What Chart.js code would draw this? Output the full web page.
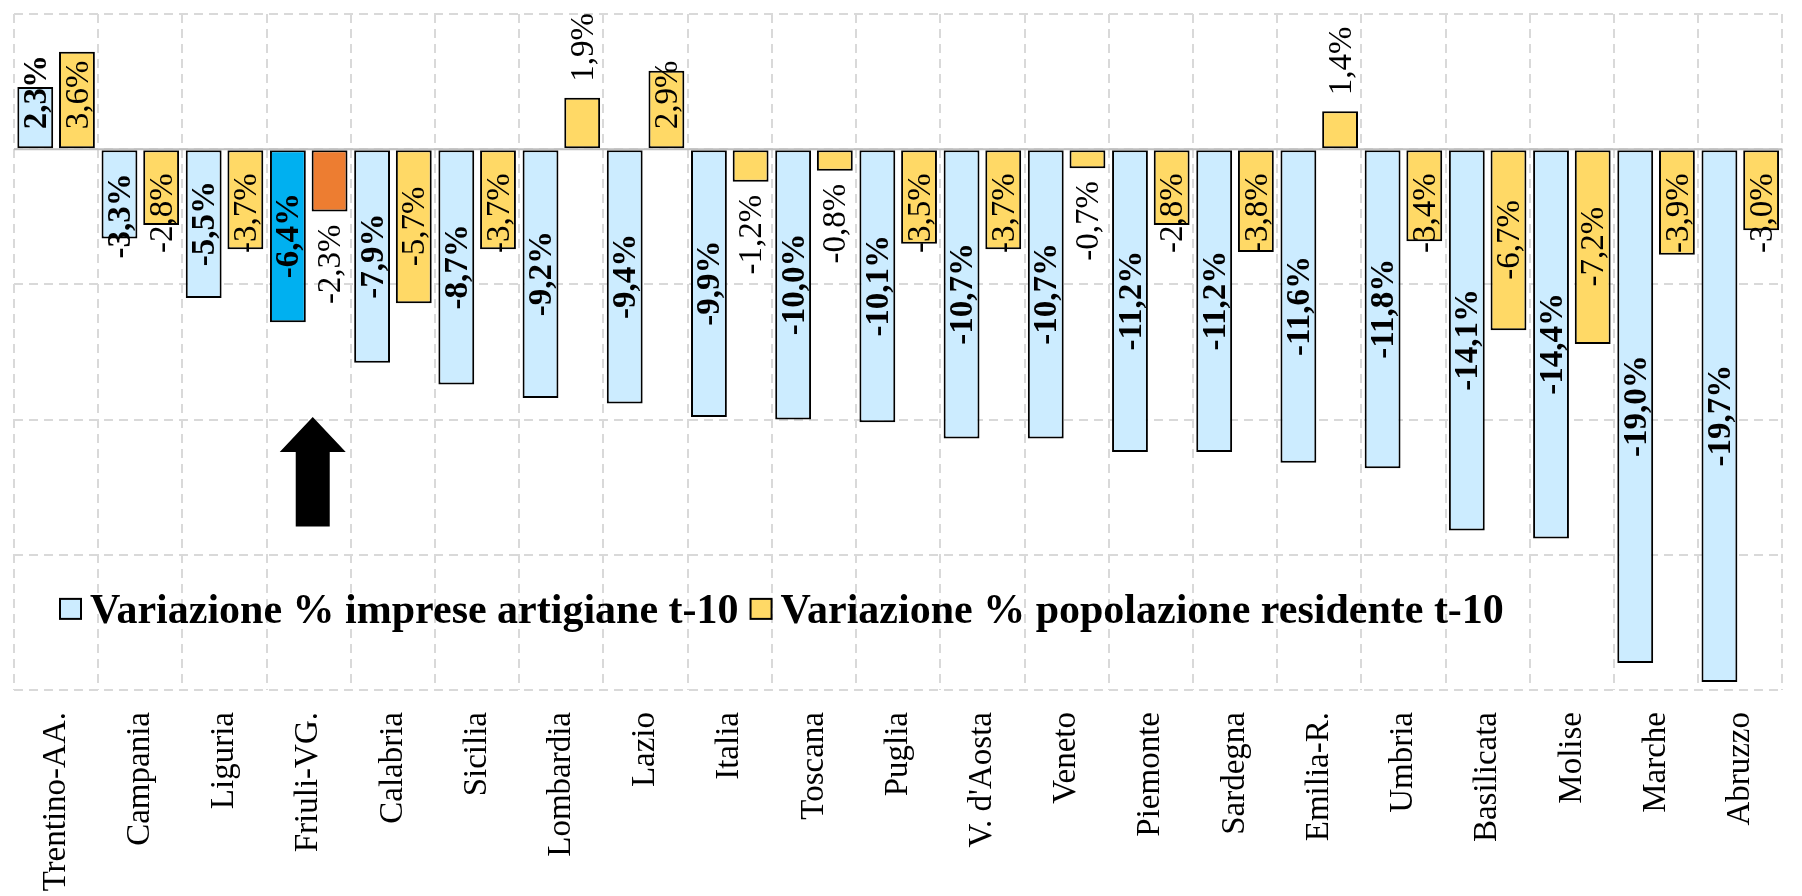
<!DOCTYPE html>
<html><head><meta charset="utf-8">
<script src="https://cdn.jsdelivr.net/npm/chart.js@4.4.1/dist/chart.umd.min.js"></script>
<style>html,body{margin:0;padding:0;background:#fff;overflow:hidden}canvas{display:block}</style>
</head><body>
<canvas id="c" width="1802" height="896"></canvas>
<script>
// ---- data ----
const categories = ['Trentino-AA.','Campania','Liguria','Friuli-VG.','Calabria','Sicilia','Lombardia','Lazio','Italia','Toscana','Puglia',"V. d'Aosta",'Veneto','Piemonte','Sardegna','Emilia-R.','Umbria','Basilicata','Molise','Marche','Abruzzo'];
const impreseArtigiane = [2.3,-3.3,-5.5,-6.4,-7.9,-8.7,-9.2,-9.4,-9.9,-10.0,-10.1,-10.7,-10.7,-11.2,-11.2,-11.6,-11.8,-14.1,-14.4,-19.0,-19.7];
const popolazioneResidente = [3.6,-2.8,-3.7,-2.3,-5.7,-3.7,1.9,2.9,-1.2,-0.8,-3.5,-3.7,-0.7,-2.8,-3.8,1.4,-3.4,-6.7,-7.2,-3.9,-3.0];
const seriesNames = ['Variazione % imprese artigiane t-10','Variazione % popolazione residente t-10'];
const yTicks = [5,0,-5,-10,-15,-20];
const highlighted = 'Friuli-VG.';

// ---- styles ----
const SERIF = '"Liberation Serif", "Times New Roman", serif';
const colBlue = '#CCECFF', colBlueHi = '#00B0F0';
const colYellow = '#FFD966', colYellowHi = '#ED7D31';
const gridCol = '#d9d9d9';
const fmt = v => v.toFixed(1).replace('.', ',') + '%';
const labelStyles = [
  { font: 'bold 33px ' + SERIF, outsideBelow: 0 },
  { font: '33px ' + SERIF, outsideBelow: 2.5 }
];

const overlayPlugin = {
  id: 'overlay',
  afterDatasetsDraw(chart) {
    const ctx = chart.ctx, ca = chart.chartArea;
    const ys = chart.scales.y, xs = chart.scales.x;
    const y0 = ys.getPixelForValue(0);
    ctx.save();
    // axis line at zero
    ctx.strokeStyle = '#bfbfbf'; ctx.lineWidth = 2;
    ctx.beginPath(); ctx.moveTo(ca.left, y0); ctx.lineTo(ca.right, y0); ctx.stroke();
    // data labels
    chart.data.datasets.forEach((ds, di) => {
      const meta = chart.getDatasetMeta(di);
      const st = labelStyles[di];
      ctx.font = st.font;
      meta.data.forEach((bar, i) => {
        const v = ds.data[i];
        const txt = fmt(v);
        const len = ctx.measureText(txt).width;
        const yv = bar.y;
        let cy;
        if (Math.abs(v) < st.outsideBelow) {
          cy = v < 0 ? yv + 13 + len / 2 : yv - 16 - len / 2;
        } else {
          cy = (y0 + yv) / 2;
          if (v < 0) cy = Math.max(cy, y0 + 24 + len / 2);
          else cy = Math.min(cy, y0 - 20 - len / 2);
        }
        ctx.save();
        ctx.translate(bar.x + 2, cy);
        ctx.rotate(-Math.PI / 2);
        ctx.textAlign = 'center'; ctx.textBaseline = 'middle';
        ctx.fillStyle = '#000';
        ctx.fillText(txt, 0, 0);
        ctx.restore();
      });
    });
    // arrow under highlighted category
    const ax = xs.getPixelForValue(categories.indexOf(highlighted)) + 4;
    const tip = ys.getPixelForValue(-9.9), hb = ys.getPixelForValue(-11.2), tail = ys.getPixelForValue(-13.95);
    ctx.fillStyle = '#000';
    ctx.beginPath();
    ctx.moveTo(ax, tip); ctx.lineTo(ax + 33, hb); ctx.lineTo(ax + 17, hb); ctx.lineTo(ax + 17, tail);
    ctx.lineTo(ax - 17, tail); ctx.lineTo(ax - 17, hb); ctx.lineTo(ax - 33, hb); ctx.closePath(); ctx.fill();
    // legend
    const ly = ys.getPixelForValue(-17.0);
    let lx = ca.left + 46;
    ctx.font = 'bold 42px ' + SERIF;
    ctx.textAlign = 'left'; ctx.textBaseline = 'alphabetic';
    [colBlue, colYellow].forEach((c, k) => {
      ctx.fillStyle = c; ctx.strokeStyle = '#000'; ctx.lineWidth = 2;
      ctx.fillRect(lx, ly - 10, 21, 20); ctx.strokeRect(lx, ly - 10, 21, 20);
      ctx.fillStyle = '#000';
      ctx.fillText(seriesNames[k], lx + 30, ly + 14);
      lx += 30 + ctx.measureText(seriesNames[k]).width + 12;
    });
    ctx.restore();
  }
};

new Chart(document.getElementById('c'), {
  type: 'bar',
  data: {
    labels: categories,
    datasets: [
      { label: seriesNames[0], data: impreseArtigiane,
        backgroundColor: categories.map(c => c === highlighted ? colBlueHi : colBlue),
        borderColor: '#000', borderWidth: 2, borderSkipped: false,
        categoryPercentage: 0.99, barPercentage: 0.86 },
      { label: seriesNames[1], data: popolazioneResidente,
        backgroundColor: categories.map(c => c === highlighted ? colYellowHi : colYellow),
        borderColor: '#000', borderWidth: 2, borderSkipped: false,
        categoryPercentage: 0.99, barPercentage: 0.86 }
    ]
  },
  options: {
    responsive: false, animation: false, devicePixelRatio: 1,
    layout: { padding: { left: 14, right: 5, top: 14, bottom: 0 } },
    plugins: { legend: { display: false }, tooltip: { enabled: false } },
    scales: {
      x: {
        grid: { color: gridCol, lineWidth: 2, drawTicks: false, offset: true },
        border: { display: false, dash: [9, 6] },
        ticks: { font: { family: SERIF, size: 33 }, color: '#000', minRotation: 90, maxRotation: 90, padding: 22, autoSkip: false },
        afterFit: s => { s.height = 206; }
      },
      y: {
        min: yTicks[yTicks.length - 1], max: yTicks[0],
        afterBuildTicks: s => { s.ticks = yTicks.map(v => ({ value: v })); },
        grid: { color: gridCol, lineWidth: 2, drawTicks: false },
        border: { display: false, dash: [9, 6] },
        ticks: { display: false }
      }
    }
  },
  plugins: [overlayPlugin]
});
</script>
</body></html>
